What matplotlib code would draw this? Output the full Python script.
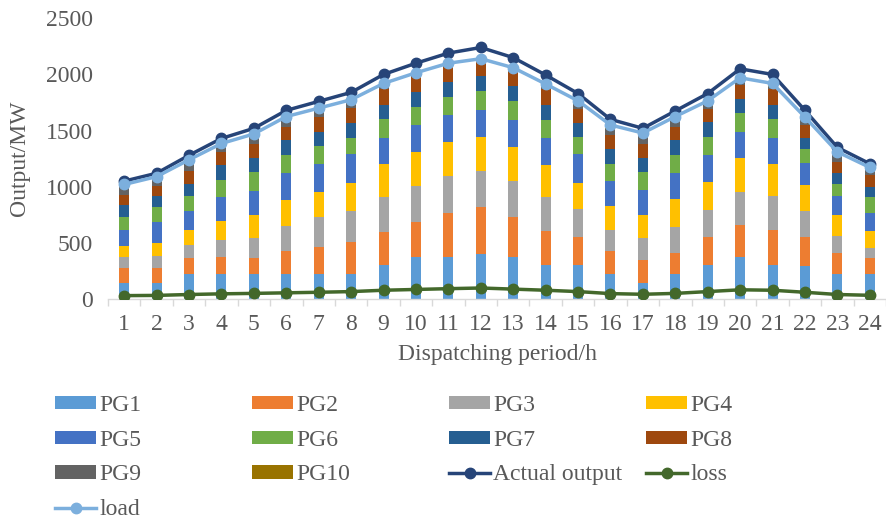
import matplotlib.pyplot as plt
import numpy as np

plt.rcParams['font.family'] = ['Liberation Serif', 'DejaVu Serif']

periods = list(range(1, 25))

pg1 = [145, 145, 225, 225, 219, 219, 219, 219, 301, 372, 375, 402, 375, 301, 301, 225, 145, 219, 301, 375, 307, 293, 225, 225]
pg2 = [133, 133, 142, 151, 148, 207, 245, 290, 293, 310, 390, 414, 352, 301, 251, 201, 201, 192, 248, 281, 310, 260, 186, 142]
pg3 = [98, 103, 112, 148, 177, 222, 263, 278, 310, 325, 331, 328, 328, 310, 251, 186, 198, 230, 245, 296, 296, 233, 154, 83]
pg4 = [95, 118, 133, 174, 207, 236, 230, 245, 296, 304, 304, 301, 301, 281, 233, 213, 201, 248, 251, 301, 287, 225, 186, 160]
pg5 = [142, 183, 174, 210, 213, 236, 242, 257, 236, 236, 236, 242, 242, 242, 251, 228, 222, 230, 236, 236, 236, 204, 163, 157]
pg6 = [118, 136, 127, 148, 163, 163, 163, 148, 163, 163, 163, 163, 163, 163, 157, 151, 163, 163, 163, 168, 165, 121, 112, 139]
pg7 = [103, 95, 112, 133, 133, 133, 127, 133, 133, 133, 133, 133, 133, 133, 124, 133, 130, 133, 133, 127, 130, 100, 95, 89]
pg8 = [95, 89, 115, 118, 118, 118, 133, 127, 142, 133, 133, 127, 127, 136, 127, 124, 118, 118, 118, 124, 136, 112, 103, 112]
pg9 = [65, 60, 68, 65, 70, 74, 59, 55, 30, 20, 15, 10, 10, 30, 44, 53, 75, 60, 44, 30, 25, 44, 65, 44]
pg10 = [20, 25, 20, 10, 15, 10, 10, 20, 10, 20, 20, 30, 20, 10, 10, 10, 15, 20, 10, 25, 15, 10, 10, 10]

actual = [1050, 1120, 1280, 1430, 1520, 1680, 1760, 1840, 2000, 2100, 2190, 2240,
          2150, 1995, 1830, 1600, 1520, 1675, 1830, 2050, 2000, 1680, 1350, 1205]
loss = [30, 32, 40, 46, 50, 55, 60, 66, 78, 85, 92, 98, 88, 78, 66, 48, 42, 50, 66, 82, 78, 60, 40, 33]
load = [1020, 1090, 1240, 1385, 1470, 1625, 1700, 1775, 1920, 2015, 2100, 2140,
        2060, 1915, 1765, 1550, 1478, 1625, 1765, 1970, 1920, 1620, 1310, 1172]

units = [pg1, pg2, pg3, pg4, pg5, pg6, pg7, pg8, pg9, pg10]
unit_names = ['PG1', 'PG2', 'PG3', 'PG4', 'PG5', 'PG6', 'PG7', 'PG8', 'PG9', 'PG10']
unit_colors = ['#5B9BD5', '#ED7D31', '#A5A5A5', '#FFC000', '#4472C4',
               '#70AD47', '#255E91', '#9E480E', '#636363', '#997300']

FS = 17
TXT = '#595959'

fig = plt.figure(figsize=(8.86, 5.31), dpi=100)
ax = fig.add_axes([108 / 886, 1 - 299 / 531, 1 - 108 / 886, (299 - 18.3) / 531])

x = np.arange(len(periods))
bottom = np.zeros(len(periods))
handles = {}
for vals, name, c in zip(units, unit_names, unit_colors):
    b = ax.bar(x, vals, width=0.31, bottom=bottom, color=c, label=name, zorder=2)
    handles[name] = b
    bottom += np.array(vals)

l_act, = ax.plot(x, actual, color='#264478', lw=2.5, marker='o', ms=7.5, label='Actual output', zorder=4)
l_loss, = ax.plot(x, loss, color='#43682B', lw=2.5, marker='o', ms=7.5, label='loss', zorder=4)
l_load, = ax.plot(x, load, color='#7CAFDD', lw=2.5, marker='o', ms=7.5, label='load', zorder=5)
handles['Actual output'] = l_act
handles['loss'] = l_loss
handles['load'] = l_load

ax.set_xlim(-0.5, len(periods) - 0.5)
ax.set_ylim(0, 2500)
ax.set_yticks([0, 500, 1000, 1500, 2000, 2500])
ax.set_xticks(x)
ax.set_xticklabels([str(p) for p in periods])
ax.set_xticks(np.arange(-0.5, len(periods), 1), minor=True)
ax.tick_params(axis='x', which='major', length=0, pad=11, labelsize=FS, colors=TXT)
ax.tick_params(axis='x', which='minor', length=5, color='#D9D9D9', width=1)
ax.tick_params(axis='y', length=0, pad=11, labelsize=FS, colors=TXT)
for s in ['top', 'right', 'left']:
    ax.spines[s].set_visible(False)
ax.spines['bottom'].set_color('#D9D9D9')
ax.spines['bottom'].set_linewidth(1)

ax.set_xlabel('Dispatching period/h', fontsize=FS, color=TXT, labelpad=6)
ax.set_ylabel('Output/MW', fontsize=FS, color=TXT, labelpad=11)

# one legend per column so the columns sit at fixed positions
columns = [
    ['PG1', 'PG5', 'PG9', 'load'],
    ['PG2', 'PG6', 'PG10'],
    ['PG3', 'PG7', 'Actual output'],
    ['PG4', 'PG8', 'loss'],
]
col_x = [55, 252, 449, 646]
for cx, names in zip(col_x, columns):
    leg = fig.legend([handles[n] for n in names], names, loc='upper left',
                     bbox_to_anchor=(cx / 886, 1 - 395 / 531), frameon=False,
                     fontsize=FS, handlelength=1.75, handleheight=0.5,
                     handletextpad=0.12, labelspacing=0.58, borderaxespad=0,
                     borderpad=0)
    for t in leg.get_texts():
        t.set_color(TXT)

fig.savefig('out.png', dpi=100)
